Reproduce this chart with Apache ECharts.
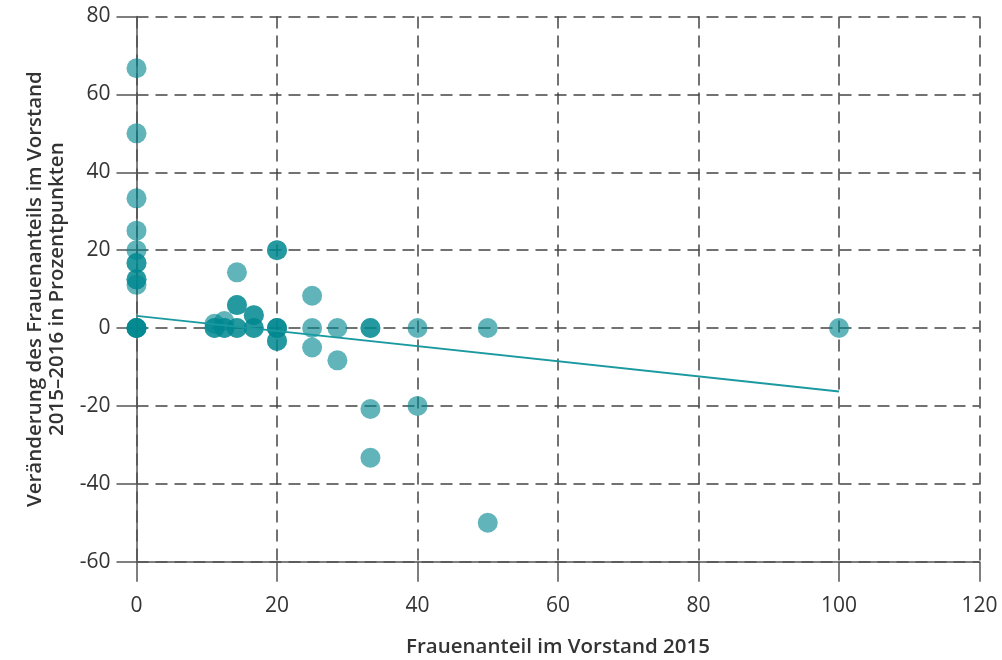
<!DOCTYPE html>
<html>
<head>
<meta charset="utf-8">
<script src="https://cdn.jsdelivr.net/npm/echarts@6/dist/echarts.min.js"></script>
<style>
html,body{margin:0;padding:0;background:#fff;}
#chart{width:1002px;height:660px;}
</style>
</head>
<body>
<div id="chart"></div>
<script>
// Frauenanteil im Vorstand 2015 (x) vs. Veränderung 2015-2016 (y)
const pointX = [0,0,0,0,0,0,0,0,0,0,0,0,0,0,
  11.1,12.5,11.1,11.1,12.5,12.5,14.3,14.3,14.3,14.3,14.3,16.7,16.7,16.7,16.7,
  20,20,20,20,20,20,20,
  25,25,25,28.6,28.6,33.3,33.3,33.3,33.3,40,40,50,50,100];
const pointY = [66.7,50,33.3,25,20,16.7,16.7,12.5,12.5,11.1,0,0,0,0,
  1.1,1.8,0,0,0,0,0,0,14.3,5.9,5.9,3.3,3.3,0,0,
  20,20,0,0,0,-3.3,-3.3,
  8.3,0,-5,0,-8.3,0,0,-20.8,-33.3,0,-20,0,-50,0];
const trendX = [0, 100];
const trendY = [3.1, -16.3];
const xTicks = [0,20,40,60,80,100,120];
const yTicks = [-60,-40,-20,0,20,40,60,80];
const xTitle = 'Frauenanteil im Vorstand 2015';
const yTitle = 'Veränderung des Frauenanteils im Vorstand\n2015–2016 in Prozentpunkten';

const scatterData = pointX.map((x, i) => [x, pointY[i]]);
const trendData = trendX.map((x, i) => [x, trendY[i]]);

const tickFont = 'Open Sans';
const titleFont = 'Open Sans';

const chart = echarts.init(document.getElementById('chart'), null, {renderer: 'canvas'});
chart.setOption({
  animation: false,
  backgroundColor: '#ffffff',
  grid: {left: 136.5, right: 22.5, top: 16.5, bottom: 98.3, containLabel: false, outerBoundsMode: 'none'},
  xAxis: {
    type: 'value',
    min: xTicks[0], max: xTicks[xTicks.length - 1], interval: 20,
    name: xTitle, nameLocation: 'middle', nameGap: 75,
    nameTextStyle: {fontFamily: titleFont, fontWeight: 600, fontSize: 20.5, color: '#333'},
    axisLine: {show: true, onZero: false, lineStyle: {color: '#555', width: 1.5}},
    axisTick: {show: true, length: 20, lineStyle: {color: '#555', width: 1.5}},
    axisLabel: {margin: 34, fontFamily: tickFont, fontSize: 21, color: '#333'},
    splitLine: {show: true, lineStyle: {color: '#444', width: 1.5, type: [12, 7]}}
  },
  yAxis: {
    type: 'value',
    min: yTicks[0], max: yTicks[yTicks.length - 1], interval: 20,
    name: yTitle, nameLocation: 'middle', nameGap: 68, nameRotate: 90,
    nameTextStyle: {fontFamily: titleFont, fontWeight: 600, fontSize: 20.5, color: '#333', lineHeight: 22, align: 'center'},
    axisLine: {show: true, onZero: false, lineStyle: {color: '#555', width: 1.5}},
    axisTick: {show: true, length: 20, lineStyle: {color: '#555', width: 1.5}},
    axisLabel: {margin: 26, fontFamily: tickFont, fontSize: 21, color: '#333'},
    splitLine: {show: true, lineStyle: {color: '#444', width: 1.5, type: [12, 7]}}
  },
  series: [
    {
      type: 'scatter',
      data: scatterData,
      symbol: 'circle',
      symbolSize: 20,
      itemStyle: {color: '#00878f', opacity: 0.62},
      z: 3
    },
    {
      type: 'line',
      data: trendData,
      symbol: 'none',
      lineStyle: {color: '#1a9aa0', width: 1.8},
      z: 4
    }
  ]
});
</script>
</body>
</html>
